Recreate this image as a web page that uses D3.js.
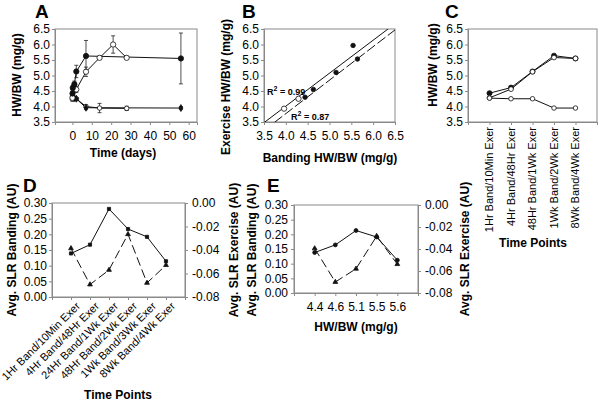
<!DOCTYPE html>
<html><head><meta charset="utf-8">
<script src="https://cdn.jsdelivr.net/npm/d3@7"></script>
<style>
body{margin:0;background:#fff}
svg{display:block;font-family:Arial,"Liberation Sans",sans-serif}
</style>
</head><body>
<svg id="chart" width="600" height="402"></svg>
<script>
// ---------- DATA ----------
// Panel A: HW/BW over time (days)
const aBandDays = [0.04, 0.17, 1, 2, 7, 56];
const aBandVals = [4.42, 4.60, 4.72, 5.13, 5.63, 5.55];
const aBandErr  = [0.06, 0.08, 0.10, 0.20, 0.50, 0.82];
const aExerDays = [0, 2, 7, 14, 21, 28];
const aExerVals = [4.28, 4.55, 5.12, 5.57, 6.00, 5.57];
const aExerErr  = [0.05, 0.10, 0.15, 0.05, 0.28, 0.05];
const aBandShamDays = [0.04, 1, 2, 7, 56];
const aBandShamVals = [4.35, 4.27, 4.25, 3.96, 3.95];
const aBandShamErr  = [0.05, 0.05, 0.04, 0.06, 0.05];
const aExerShamDays = [0, 2, 7, 14, 28];
const aExerShamVals = [4.24, 4.25, 4.00, 3.95, 3.94];
const aExerShamErr  = [0.07, 0.04, 0.05, 0.15, 0.07];
const aXTicks = [0, 10, 20, 30, 40, 50, 60];
const hwTicks = [3.5, 4.0, 4.5, 5.0, 5.5, 6.0, 6.5];

// Panel B: Exercise vs Banding HW/BW
const bBandX = [4.44, 4.63, 5.15, 5.54, 5.64];
const bExerY = [4.30, 4.55, 5.10, 5.97, 5.53];
const bShamX = [3.96, 4.29];
const bShamY = [3.93, 4.25];
const bFitSlopes = [1.064, 1.08];
const bFitIntercepts = [-0.245, -0.55];
const bFitLabels = ["0.99", "0.87"];

// Panel C: HW/BW by time point
const cCategories = ["1Hr Band/10Min Exer", "4Hr Band/48Hr Exer", "48Hr Band/1Wk Exer", "1Wk Band/2Wk Exer", "8Wk Band/4Wk Exer"];
const cBand = [4.43, 4.61, 5.13, 5.64, 5.55];
const cExer = [4.28, 4.56, 5.12, 5.58, 5.55];
const cSham = [4.27, 4.25, 4.25, 3.95, 3.95];

// Panel D: average SLR by time point
const dCategories = ["1Hr Band/10Min Exer", "4Hr Band/48Hr Exer", "24Hr Band/1Wk Exer", "48Hr Band/2Wk Exer", "1Wk Band/3Wk Exer", "8Wk Band/4Wk Exer"];
const dBanding = [0.139, 0.167, 0.281, 0.217, 0.192, 0.114];
const dExercise = [-0.0386, -0.0694, -0.057, -0.0266, -0.068, -0.0529];
const slrLeftTicks = [0, 0.05, 0.10, 0.15, 0.20, 0.25, 0.30];
const slrRightTicks = [-0.08, -0.06, -0.04, -0.02, 0];

// Panel E: average SLR by HW/BW
const eCategories = ["4.4", "4.6", "5.1", "5.5", "5.6"];
const eBanding = [0.138, 0.164, 0.213, 0.191, 0.112];
const eExercise = [-0.0395, -0.070, -0.058, -0.0283, -0.0538];

// ---------- DRAW ----------
const svg = d3.select("#chart");
const AX = "#8a8a8a";
const fmt1 = d => d.toFixed(1);
const fmt2 = d => d.toFixed(2);

function styleAxis(g, fs) {
  g.select(".domain").attr("stroke", AX);
  g.selectAll(".tick line").attr("stroke", AX);
  g.selectAll(".tick text").attr("fill", "#000").style("font-size", (fs || 12) + "px").style("font-family", "Arial, 'Liberation Sans', sans-serif");
}
function frame(x0, y0, x1, y1) {
  svg.append("rect").attr("x", x0).attr("y", y0).attr("width", x1 - x0).attr("height", y1 - y0)
    .attr("fill", "none").attr("stroke", AX).attr("stroke-width", 1);
}
function letter(t, x, y) {
  svg.append("text").attr("x", x).attr("y", y).text(t)
    .style("font-size", "19px").style("font-weight", "bold");
}
function vtitle(t, cx, cy) {
  svg.append("text").attr("transform", `translate(${cx},${cy}) rotate(-90)`)
    .attr("text-anchor", "middle").attr("dy", "0.35em").text(t)
    .style("font-size", "12px").style("font-weight", "bold");
}
function htitle(t, cx, y) {
  svg.append("text").attr("x", cx).attr("y", y).attr("text-anchor", "middle").text(t)
    .style("font-size", "12px").style("font-weight", "bold");
}
function errBars(g, xs, ys, es, x, y) {
  xs.forEach((d, i) => {
    const px = x(d), y1 = y(ys[i] - es[i]), y2 = y(ys[i] + es[i]);
    g.append("line").attr("x1", px).attr("x2", px).attr("y1", y1).attr("y2", y2).attr("stroke", "#222").attr("stroke-width", 0.8);
    [y1, y2].forEach(yy => g.append("line").attr("x1", px - 2).attr("x2", px + 2).attr("y1", yy).attr("y2", yy).attr("stroke", "#222").attr("stroke-width", 0.8));
  });
}
function pathOf(g, xs, ys, x, y, dash) {
  g.append("path").datum(xs.map((d, i) => [d, ys[i]]))
    .attr("d", d3.line().x(d => x(d[0])).y(d => y(d[1])))
    .attr("fill", "none").attr("stroke", "#111").attr("stroke-width", 1)
    .attr("stroke-dasharray", dash || null);
}
function marks(g, xs, ys, x, y, type, fill, size) {
  const sym = d3.symbol().type(type).size(size);
  xs.forEach((d, i) => {
    g.append("path").attr("d", sym()).attr("transform", `translate(${x(d)},${y(ys[i])})`)
      .attr("fill", fill).attr("stroke", "#111").attr("stroke-width", 0.8);
  });
}

// ----- Panel A -----
{
  const x = d3.scaleLinear().domain([-9, 64.3]).range([55, 197]);
  const y = d3.scaleLinear().domain([3.5, 6.5]).range([122, 29]);
  frame(55, 29, 197, 122);
  const gy = svg.append("g").attr("transform", "translate(55,0)")
    .call(d3.axisLeft(y).tickValues(hwTicks).tickFormat(fmt1).tickSize(3).tickPadding(2));
  styleAxis(gy);
  const gx = svg.append("g").attr("transform", "translate(0,122)")
    .call(d3.axisBottom(x).tickValues(aXTicks).tickSize(3).tickPadding(6));
  styleAxis(gx);
  const g = svg.append("g");
  pathOf(g, aExerShamDays, aExerShamVals, x, y);
  pathOf(g, aBandShamDays, aBandShamVals, x, y);
  pathOf(g, aExerDays, aExerVals, x, y);
  pathOf(g, aBandDays, aBandVals, x, y);
  errBars(g, aExerShamDays, aExerShamVals, aExerShamErr, x, y);
  errBars(g, aBandShamDays, aBandShamVals, aBandShamErr, x, y);
  errBars(g, aExerDays, aExerVals, aExerErr, x, y);
  errBars(g, aBandDays, aBandVals, aBandErr, x, y);
  marks(g, aExerShamDays, aExerShamVals, x, y, d3.symbolCircle, "#fff", 16);
  marks(g, aBandShamDays, aBandShamVals, x, y, d3.symbolDiamond, "#111", 14);
  marks(g, aExerDays, aExerVals, x, y, d3.symbolCircle, "#fff", 22);
  marks(g, aBandDays, aBandVals, x, y, d3.symbolCircle, "#111", 22);
  letter("A", 35, 18);
  vtitle("HW/BW (mg/g)", 17, 75);
  htitle("Time (days)", 123, 157);
}

// ----- Panel B -----
{
  const x = d3.scaleLinear().domain([3.5, 6.5]).range([264, 395]);
  const y = d3.scaleLinear().domain([3.5, 6.5]).range([122, 29]);
  frame(264, 29, 395, 122);
  svg.append("clipPath").attr("id", "clipB").append("rect").attr("x", 264).attr("y", 29).attr("width", 131).attr("height", 93);
  const gy = svg.append("g").attr("transform", "translate(264,0)")
    .call(d3.axisLeft(y).tickValues(hwTicks).tickFormat(fmt1).tickSize(3).tickPadding(2));
  styleAxis(gy);
  const gx = svg.append("g").attr("transform", "translate(0,122)")
    .call(d3.axisBottom(x).tickValues(hwTicks).tickFormat(fmt1).tickSize(3).tickPadding(6));
  styleAxis(gx);
  const g = svg.append("g").attr("clip-path", "url(#clipB)");
  bFitSlopes.forEach((m, i) => {
    const b = bFitIntercepts[i];
    const xs = [3.5, 6.5];
    pathOf(g, xs, xs.map(v => m * v + b), x, y, i === 1 ? "10,3" : null);
  });
  const gm = svg.append("g");
  marks(gm, bShamX, bShamY, x, y, d3.symbolCircle, "#fff", 22);
  marks(gm, bBandX, bExerY, x, y, d3.symbolCircle, "#111", 16);
  const r1 = svg.append("text").attr("x", 267).attr("y", 95).style("font-size", "9px").style("font-weight", "bold");
  r1.append("tspan").text("R");
  r1.append("tspan").attr("dy", -4).style("font-size", "7px").text("2");
  r1.append("tspan").attr("dy", 4).text(" = " + bFitLabels[0]);
  const r2 = svg.append("text").attr("x", 291).attr("y", 120).style("font-size", "9px").style("font-weight", "bold");
  r2.append("tspan").text("R");
  r2.append("tspan").attr("dy", -4).style("font-size", "7px").text("2");
  r2.append("tspan").attr("dy", 4).text(" = " + bFitLabels[1]);
  letter("B", 242, 18);
  vtitle("Exercise HW/BW (mg/g)", 226, 87);
  htitle("Banding HW/BW (mg/g)", 330, 162);
}

// ----- Panel C -----
{
  const x = d3.scaleLinear().domain([0, 6]).range([468, 597]);
  const y = d3.scaleLinear().domain([3.5, 6.5]).range([122, 29]);
  frame(468, 29, 597, 122);
  const gy = svg.append("g").attr("transform", "translate(468,0)")
    .call(d3.axisLeft(y).tickValues(hwTicks).tickFormat(fmt1).tickSize(3).tickPadding(2));
  styleAxis(gy);
  const idx = cCategories.map((c, i) => i + 1);
  const gx = svg.append("g").attr("transform", "translate(0,122)")
    .call(d3.axisBottom(x).tickValues([0, 1, 2, 3, 4, 5, 6]).tickFormat("").tickSize(3));
  styleAxis(gx);
  cCategories.forEach((c, i) => {
    svg.append("text").attr("transform", `translate(${x(i + 1)},127) rotate(-90)`)
      .attr("text-anchor", "end").attr("dy", "0.35em").text(c).style("font-size", "11px");
  });
  const g = svg.append("g");
  pathOf(g, idx, cSham, x, y);
  pathOf(g, idx, cBand, x, y);
  pathOf(g, idx, cExer, x, y);
  marks(g, idx, cBand, x, y, d3.symbolCircle, "#111", 20);
  marks(g, idx, cExer, x, y, d3.symbolCircle, "#fff", 18);
  marks(g, idx, cSham, x, y, d3.symbolCircle, "#fff", 16);
  letter("C", 445, 18);
  vtitle("HW/BW (mg/g)", 433, 65);
  htitle("Time Points", 533, 247);
}

// ----- Panel D -----
{
  const x = d3.scaleLinear().domain([0, 7]).range([52, 185]);
  const yL = d3.scaleLinear().domain([0, 0.3]).range([297, 203]);
  const yR = d3.scaleLinear().domain([-0.08, 0]).range([297, 203]);
  frame(52, 203, 185, 297);
  const gy = svg.append("g").attr("transform", "translate(52,0)")
    .call(d3.axisLeft(yL).tickValues(slrLeftTicks).tickFormat(fmt2).tickSize(3).tickPadding(2));
  styleAxis(gy);
  const gr = svg.append("g").attr("transform", "translate(185,0)")
    .call(d3.axisRight(yR).tickValues(slrRightTicks).tickFormat(fmt2).tickSize(3).tickPadding(4));
  styleAxis(gr);
  const idx = dCategories.map((c, i) => i + 1);
  const gx = svg.append("g").attr("transform", "translate(0,297)")
    .call(d3.axisBottom(x).tickValues(d3.range(0, 8)).tickFormat("").tickSize(3));
  styleAxis(gx);
  dCategories.forEach((c, i) => {
    svg.append("text").attr("transform", `translate(${x(i + 1) + 7},304) rotate(-45)`)
      .attr("text-anchor", "end").attr("dy", "0.35em").text(c).style("font-size", "11px");
  });
  const g = svg.append("g");
  pathOf(g, idx, dExercise, x, yR, "9,4");
  pathOf(g, idx, dBanding, x, yL);
  marks(g, idx, dExercise, x, yR, d3.symbolTriangle, "#111", 10);
  marks(g, idx, dBanding, x, yL, d3.symbolSquare, "#111", 10);
  letter("D", 23, 192);
  vtitle("Avg. SLR Banding (AU)", 12, 250);
  vtitle("Avg. SLR Exercise (AU)", 234, 250);
  htitle("Time Points", 118, 399);
}

// ----- Panel E -----
{
  const x = d3.scaleLinear().domain([0, 6]).range([294, 418]);
  const yL = d3.scaleLinear().domain([0, 0.3]).range([293, 205]);
  const yR = d3.scaleLinear().domain([-0.08, 0]).range([293, 205]);
  frame(294, 205, 418, 293);
  const gy = svg.append("g").attr("transform", "translate(294,0)")
    .call(d3.axisLeft(yL).tickValues(slrLeftTicks).tickFormat(fmt2).tickSize(3).tickPadding(3));
  styleAxis(gy);
  const gr = svg.append("g").attr("transform", "translate(418,0)")
    .call(d3.axisRight(yR).tickValues(slrRightTicks).tickFormat(fmt2).tickSize(3).tickPadding(4));
  styleAxis(gr);
  const idx = eCategories.map((c, i) => i + 1);
  const gx = svg.append("g").attr("transform", "translate(0,293)")
    .call(d3.axisBottom(x).tickValues(idx).tickFormat((d, i) => eCategories[i]).tickSize(3).tickPadding(6));
  styleAxis(gx);
  const g = svg.append("g");
  pathOf(g, idx, eExercise, x, yR, "9,4");
  pathOf(g, idx, eBanding, x, yL);
  marks(g, idx, eExercise, x, yR, d3.symbolTriangle, "#111", 10);
  marks(g, idx, eBanding, x, yL, d3.symbolCircle, "#111", 12);
  letter("E", 267, 192);
  vtitle("Avg. SLR Banding (AU)", 252, 250);
  vtitle("Avg. SLR Exercise (AU)", 465, 249);
  htitle("HW/BW (mg/g)", 356, 331);
}
</script>
</body></html>
